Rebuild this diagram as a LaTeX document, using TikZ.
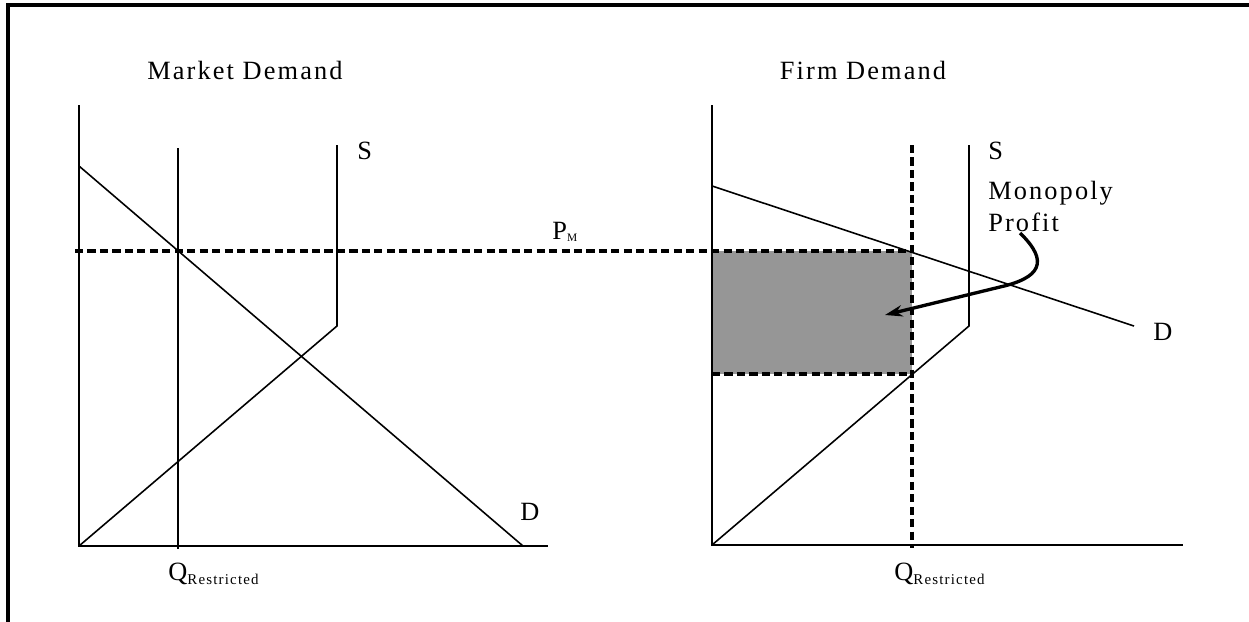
\documentclass[tikz,border=0pt]{standalone}
\usepackage{fontspec}
\setmainfont{Liberation Serif}[LetterSpace=8]
\usepackage{tikz}
\usetikzlibrary{arrows.meta,calc}

\definecolor{profitgray}{RGB}{150,150,150}
\newcommand{\qsub}[1]{Q\raisebox{-2.6pt}{\fontsize{8.5}{9}\selectfont #1}}

\begin{document}
\begin{tikzpicture}[x=0.02cm,y=-0.02cm,
    axis/.style={line width=1.3pt},
    curve/.style={line width=0.9pt},
    pdash/.style={line width=1.8pt,dash pattern=on 4.6pt off 2.5pt},
    lbl/.style={anchor=base west,inner sep=0pt,font=\fontsize{15}{17}\selectfont}]
  \useasboundingbox (0,0) rectangle (1249,622);
  \draw[line width=2.3pt] (8,622) -- (8,4.7) -- (1249,4.7);

  % market side
  \coordinate (LO) at (79,546);
  \coordinate (LY) at (79,105);
  \coordinate (LX) at (548,546);
  \coordinate (LD1) at (79,166);
  \coordinate (LD2) at (523,546);
  \coordinate (LQt) at (178,148);
  \coordinate (LQb) at (178,549);
  \coordinate (LSt) at (337,145);
  \coordinate (LSk) at (337,326);

  % firm side
  \coordinate (RO) at (712,545);
  \coordinate (RY) at (712,105);
  \coordinate (RX) at (1183,545);
  \coordinate (RD1) at (712,186);
  \coordinate (RD2) at (1134,326);
  \coordinate (RQt) at (912,145);
  \coordinate (RQb) at (912,548);
  \coordinate (RSt) at (969,145);
  \coordinate (RSk) at (969,326);
  \coordinate (PM0) at (75,251);
  \coordinate (PM1) at (912,251);
  \coordinate (AC) at (712,374);
  \coordinate (AC1) at (912,374);

  \fill[profitgray] (712,251) rectangle (AC1);

  \draw[axis] (LY) -- (LO) -- (LX);
  \draw[curve] (LD1) -- (LD2);
  \draw[curve] (LQt) -- (LQb);
  \draw[curve] (LSt) -- (LSk) -- (LO);

  \draw[axis] (RY) -- (RO) -- (RX);
  \draw[curve] (RD1) -- (RD2);
  \draw[curve] (RSt) -- (RSk) -- (RO);

  \draw[pdash] (PM0) -- (PM1);
  \draw[pdash] (AC) -- (AC1);
  \draw[pdash] (RQt) -- (RQb);

  \draw[line width=1.9pt,-{Stealth[length=10pt,width=6.5pt]}]
    (1020,233) .. controls (1050,262) and (1040,278) .. (1000,287) -- (885,315);

  \node[anchor=base,inner sep=0pt,font=\fontsize{15}{17}\selectfont] (tm) at (245,79) {Market Demand};
  \node[anchor=base,inner sep=0pt,font=\fontsize{15}{17}\selectfont] (tf) at (863,79) {Firm Demand};
  \node[lbl] (sl) at (357,159) {S};
  \node[lbl] (sr) at (988,159) {S};
  \node[lbl] (dl) at (520,520) {D};
  \node[lbl] (dr) at (1153,340) {D};
  \node[lbl] (mp1) at (988,199) {Monopoly};
  \node[lbl] (mp2) at (988,231) {Profit};
  \node[lbl] (pm) at (552,239) {P\raisebox{-1.5pt}{\fontsize{6.5}{7}\selectfont M}};
  \node[lbl] (ql) at (168,580) {\qsub{Restricted}};
  \node[lbl] (qr) at (894,580) {\qsub{Restricted}};
\end{tikzpicture}
\end{document}
